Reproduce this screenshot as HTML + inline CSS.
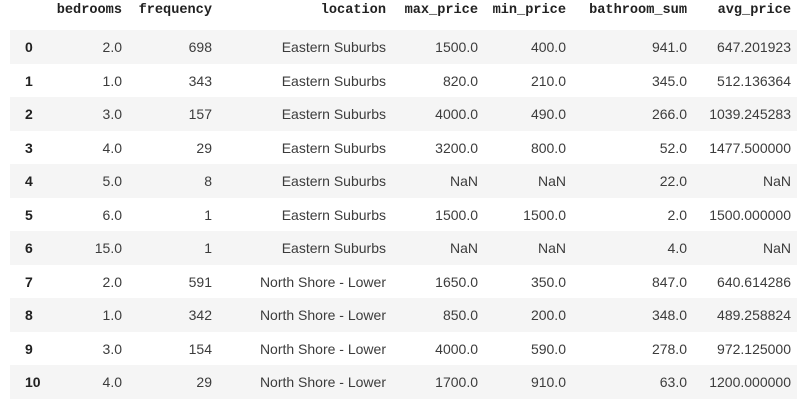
<!DOCTYPE html>
<html><head><meta charset="utf-8"><style>
body{margin:0;width:806px;height:415px;background:#fff;overflow:hidden;position:relative;font-family:"Liberation Sans",sans-serif;}
.h{position:absolute;top:3px;font:bold 13.6px "Liberation Mono",monospace;color:#212121;white-space:nowrap;transform:translateX(-100%);}
.band{position:absolute;left:10px;width:787px;height:33.5px;}
.c{position:absolute;font-size:14px;color:#3c3c3c;white-space:nowrap;transform:translateX(-100%);line-height:16px;}
.i{position:absolute;left:25px;font-size:14px;font-weight:bold;color:#212121;line-height:16px;}
</style></head><body>
<div id="t"></div>
<script>
const cols=["bedrooms","frequency","location","max_price","min_price","bathroom_sum","avg_price"];
const rights=[122,212,386,478,566,687,791];
const rows=[
["2.0","698","Eastern Suburbs","1500.0","400.0","941.0","647.201923"],
["1.0","343","Eastern Suburbs","820.0","210.0","345.0","512.136364"],
["3.0","157","Eastern Suburbs","4000.0","490.0","266.0","1039.245283"],
["4.0","29","Eastern Suburbs","3200.0","800.0","52.0","1477.500000"],
["5.0","8","Eastern Suburbs","NaN","NaN","22.0","NaN"],
["6.0","1","Eastern Suburbs","1500.0","1500.0","2.0","1500.000000"],
["15.0","1","Eastern Suburbs","NaN","NaN","4.0","NaN"],
["2.0","591","North Shore - Lower","1650.0","350.0","847.0","640.614286"],
["1.0","342","North Shore - Lower","850.0","200.0","348.0","489.258824"],
["3.0","154","North Shore - Lower","4000.0","590.0","278.0","972.125000"],
["4.0","29","North Shore - Lower","1700.0","910.0","63.0","1200.000000"]];
const t=document.getElementById('t');
cols.forEach((c,j)=>{const d=document.createElement('div');d.className='h';d.style.left=rights[j]+'px';d.textContent=c;


t.appendChild(d);});
rows.forEach((r,i)=>{const y=30+i*33.5;
if(i%2==0){const b=document.createElement('div');b.className='band';b.style.top=y+'px';b.style.background='#f5f5f5';


t.appendChild(b);}
const ix=document.createElement('div');ix.className='i';ix.style.top=(y+9)+'px';ix.textContent=i;


t.appendChild(ix);
r.forEach((v,j)=>{const d=document.createElement('div');d.className='c';d.style.left=rights[j]+'px';d.style.top=(y+9)+'px';d.textContent=v;


t.appendChild(d);});});
</script>
</body></html>
